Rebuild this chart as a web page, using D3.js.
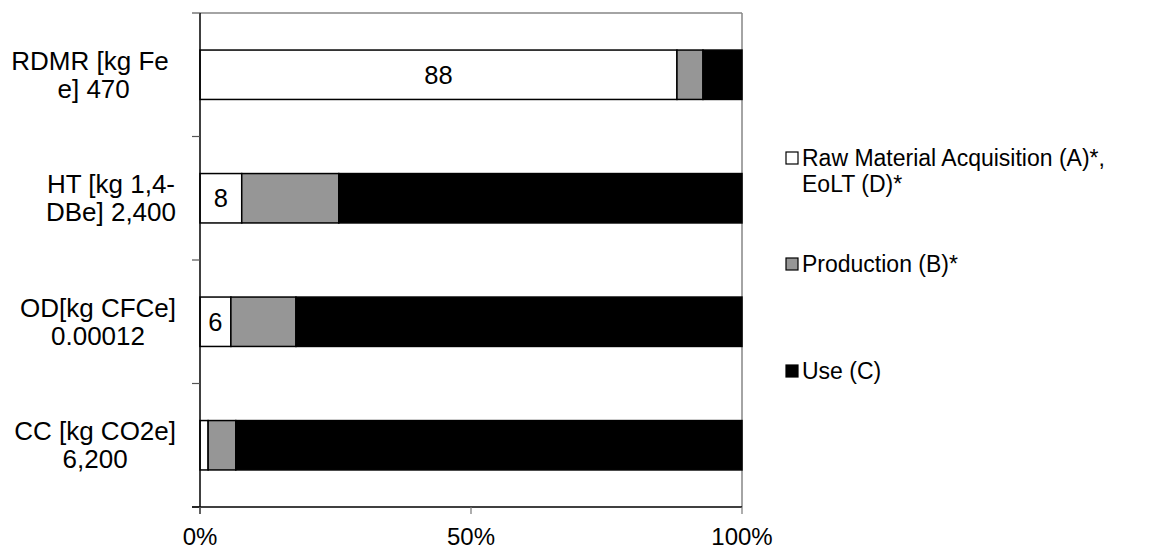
<!DOCTYPE html>
<html><head><meta charset="utf-8">
<script src="https://cdn.jsdelivr.net/npm/d3@7"></script>
<style>
body{margin:0;background:#fff;}
svg text{font-family:"Liberation Sans",Arial,sans-serif;}
</style></head>
<body><svg id="c" width="1165" height="550"></svg>
<script>
const categories = ["RDMR [kg Fe e] 470","HT [kg 1,4-DBe] 2,400","OD[kg CFCe] 0.00012","CC [kg CO2e] 6,200"];
const categoryLines = [["RDMR [kg Fe ","e] 470"],["HT [kg 1,4-","DBe] 2,400"],["OD[kg CFCe]","0.00012"],["CC [kg CO2e]","6,200"]];
const seriesNames = ["Raw Material Acquisition (A)*, EoLT (D)*","Production (B)*","Use (C)"];
const legendLines = [["Raw Material Acquisition (A)*,","EoLT (D)*"],["Production (B)*"],["Use (C)"]];
const rawEol = [88, 7.7, 5.7, 1.5];
const production = [4.8, 17.9, 12.0, 5.1];
const use = [7.2, 74.4, 82.3, 93.4];
const valueLabels = ["88","8","6",""];
const xTicks = [0, 50, 100];
const xTickLabels = ["0%","50%","100%"];
const colors = ["#ffffff","#969696","#000000"];

const svg = d3.select("#c");
const m = {l:200, t:13, w:542, h:494};
const g = svg.append("g").attr("transform",`translate(${m.l},${m.t})`);
const x = d3.scaleLinear().domain([0,100]).range([0,m.w]);
const y = d3.scaleBand().domain(categories).range([0,m.h]).paddingInner(0.6).paddingOuter(0.3);

// frame top/right gray
g.append("line").attr("x1",0).attr("x2",m.w).attr("y1",0).attr("y2",0).attr("stroke","#868686").attr("stroke-width",1.5);
g.append("line").attr("x1",m.w).attr("x2",m.w).attr("y1",0).attr("y2",m.h).attr("stroke","#868686").attr("stroke-width",1.5);

const series = [rawEol, production, use];
const stacked = categories.map((c,i)=>{let s=0;return series.map((arr,k)=>{const d={c,k,x0:s,x1:s+arr[i]};s+=arr[i];return d;});});
g.selectAll("g.bar").data(stacked).join("g").selectAll("rect").data(d=>d).join("rect")
 .attr("x",d=>x(d.x0)).attr("width",d=>x(d.x1)-x(d.x0))
 .attr("y",d=>y(d.c)).attr("height",y.bandwidth())
 .attr("fill",d=>colors[d.k]).attr("stroke","#000").attr("stroke-width",1.5);

g.selectAll("text.vl").data(categories).join("text").attr("class","vl")
 .attr("x",(c,i)=>x(rawEol[i]/2)).attr("y",c=>y(c)+y.bandwidth()/2)
 .attr("dy","0.35em").attr("text-anchor","middle").attr("font-size",25.5)
 .text((c,i)=>valueLabels[i]);

// left axis
const step = y.step(), off=(step-y.bandwidth())/2;
const bounds = categories.map(c=>y(c)-off).concat([m.h]);
g.append("line").attr("x1",0).attr("x2",0).attr("y1",0).attr("y2",m.h+7).attr("stroke","#000").attr("stroke-width",1.5);
g.selectAll("line.yt").data(bounds).join("line").attr("class","yt")
 .attr("x1",-8).attr("x2",0).attr("y1",d=>d).attr("y2",d=>d).attr("stroke","#555").attr("stroke-width",1.2);
// bottom axis
g.append("line").attr("x1",-8).attr("x2",m.w).attr("y1",m.h).attr("y2",m.h).attr("stroke","#000").attr("stroke-width",1.5);
g.selectAll("line.xt").data(xTicks).join("line").attr("class","xt")
 .attr("x1",d=>x(d)).attr("x2",d=>x(d)).attr("y1",m.h).attr("y2",m.h+7).attr("stroke","#777").attr("stroke-width",1.2);
g.selectAll("text.xl").data(xTicks).join("text").attr("class","xl")
 .attr("x",d=>x(d)).attr("y",m.h+38).attr("text-anchor","middle").attr("font-size",24).text((d,i)=>xTickLabels[i]);

// category labels
categories.forEach((c,i)=>{
  const lines = categoryLines[i];
  const tmp = lines.map(l=>svg.append("text").attr("font-size",26).style("white-space","pre").text(l));
  const maxW = d3.max(tmp,t=>t.node().getComputedTextLength());
  tmp.forEach(t=>t.remove());
  const cx = 176 - maxW/2;
  const cy = m.t + y(c) + y.bandwidth()/2;
  lines.forEach((l,j)=>{
    svg.append("text").attr("x",cx).attr("y",cy + (j-(lines.length-1)/2)*28).attr("dy","0.35em")
      .attr("text-anchor","middle").attr("font-size",26).style("white-space","pre").text(l);
  });
});

// legend
const legY = [158, 264, 371];
const lg = svg.append("g");
seriesNames.forEach((s,i)=>{
  lg.append("rect").attr("x",786).attr("y",legY[i]-6).attr("width",12).attr("height",12)
    .attr("fill",colors[i]).attr("stroke","#000").attr("stroke-width",1.2);
  legendLines[i].forEach((l,j)=>{
    lg.append("text").attr("x",802).attr("y",legY[i]+j*26).attr("dy","0.35em").attr("font-size",23).text(l);
  });
});
</script></body></html>
